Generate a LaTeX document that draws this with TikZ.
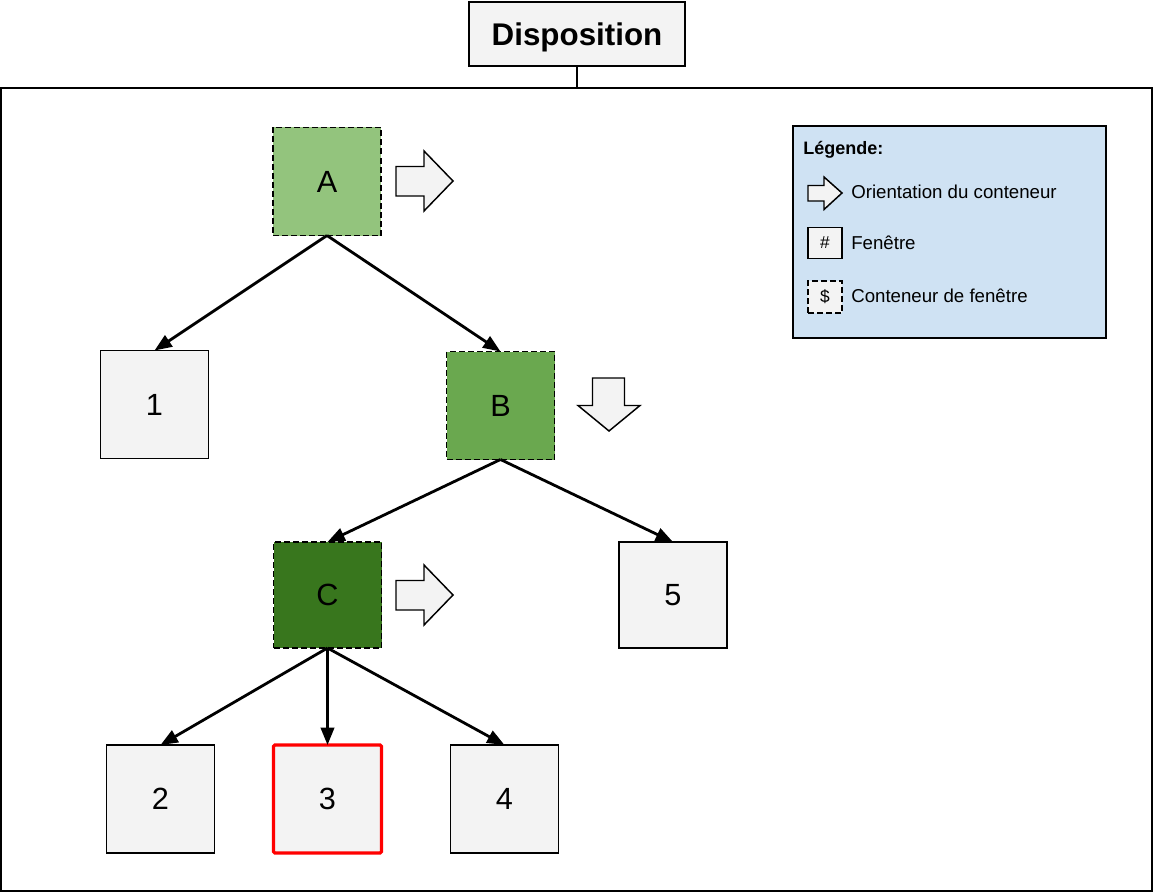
\documentclass[tikz,border=0pt]{standalone}
\usepackage{fontspec}
\setmainfont{Liberation Sans}
\usetikzlibrary{arrows.meta}
\definecolor{boxfill}{HTML}{F3F3F3}
\definecolor{greenA}{HTML}{93C47D}
\definecolor{greenB}{HTML}{6AA84F}
\definecolor{greenC}{HTML}{38761D}
\definecolor{legfill}{HTML}{CFE2F3}
\definecolor{redbd}{HTML}{FF0000}
\begin{document}
\begin{tikzpicture}[x=0.75pt,y=-0.75pt,
  win/.style={draw=black, line width=1.4pt, fill=boxfill, minimum width=81pt, minimum height=81pt, inner sep=0pt, outer sep=0pt, font=\fontsize{23}{27}\selectfont},
  cont/.style={win, line width=1.2pt, dash pattern=on 4.5pt off 2.25pt},
  edge/.style={line width=2.1pt, -{Triangle[length=13pt,width=10pt]}},
  orient/.style={draw=black, line width=1.1pt, fill=boxfill, line join=miter},
  legtext/.style={anchor=base west, inner sep=0pt, font=\fontsize{14}{17}\selectfont},
  legbox/.style={draw=black, line width=1.1pt, fill=boxfill, minimum width=25.5pt, minimum height=23pt, inner sep=0pt, font=\fontsize{13}{15}\selectfont},
]
\useasboundingbox (0,0) rectangle (1154,892);
% title and frame
\node[draw=black, line width=0.8pt, fill=boxfill, minimum width=162pt, minimum height=48pt, inner sep=0pt, outer sep=0pt, text depth=0pt, font=\bfseries\fontsize{23.5}{28}\selectfont] (title) at (577,34) {Disposition};
\draw[line width=0.8pt] (1,88) rectangle (1152,891);
\coordinate (ftop) at (577,88);
\draw[line width=0.8pt] (title.south) -- (ftop);
% tree nodes
\node[cont, fill=greenA] (A) at (327,181.5) {A};
\node[win] (n1) at (154.5,404.5) {1};
\node[cont, fill=greenB] (B) at (500.5,405.5) {B};
\node[cont, fill=greenC, minimum height=79.5pt] (C) at (327.5,595) {C};
\node[win, minimum height=79.5pt] (n5) at (673,595) {5};
\node[win] (n2) at (160.5,799) {2};
\node[win, draw=redbd, line width=2.4pt, rounded corners=1pt] (n3) at (327.5,799) {3};
\node[win] (n4) at (504.5,799) {4};
% edges
\draw[edge] (A.south) -- (n1.north);
\draw[edge] (A.south) -- (B.north);
\draw[edge] (B.south) -- (C.north);
\draw[edge] (B.south) -- (n5.north);
\draw[edge] (C.south) -- (n2.north);
\draw[edge] (C.south) -- (n3.north);
\draw[edge] (C.south) -- (n4.north);
% orientation arrows
\draw[orient] (396,166.5) -- (424,166.5) -- (424,151) -- (453,181) -- (424,211) -- (424,196) -- (396,196) -- cycle;
\draw[orient] (396,580.5) -- (424,580.5) -- (424,565) -- (453,595) -- (424,625) -- (424,610) -- (396,610) -- cycle;
\draw[orient] (592.5,378) -- (624.5,378) -- (624.5,405.5) -- (640,405.5) -- (609,431) -- (578,405.5) -- (592.5,405.5) -- cycle;
% legend
\node[draw=black, line width=1.1pt, fill=legfill, minimum width=234.75pt, minimum height=159pt, inner sep=0pt, outer sep=0pt] (legend) at (949.5,232) {};
\node[legtext, font=\bfseries\fontsize{13.5}{16}\selectfont] (legtitle) at (803,155) {Légende:};
\draw[orient] (808,185.5) -- (824,185.5) -- (824,177) -- (842,193) -- (824,209.5) -- (824,201) -- (808,201) -- cycle;
\node[legtext] (lt1) at (851,198.4) {Orientation du conteneur};
\node[legbox] (lhash) at (825,243) {\#};
\node[legtext] (lt2) at (851,249.7) {Fenêtre};
\node[legbox, dash pattern=on 4.5pt off 2.25pt, minimum height=24pt] (ldollar) at (825,297) {\$};
\node[legtext] (lt3) at (851,302.4) {Conteneur de fenêtre};
\end{tikzpicture}
\end{document}
